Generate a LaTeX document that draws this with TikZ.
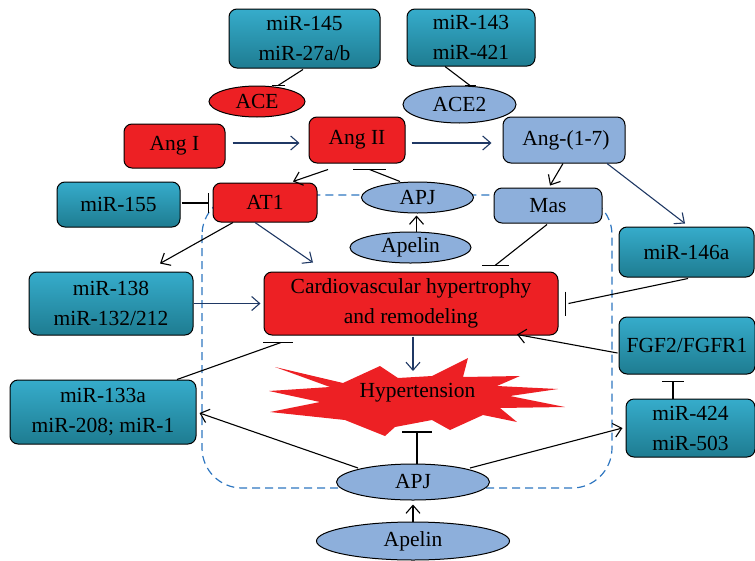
\documentclass[tikz,border=0pt]{standalone}
\usepackage{fontspec}
\setmainfont{Liberation Serif}
\usetikzlibrary{shapes.geometric,arrows.meta,calc}
\definecolor{rd}{RGB}{237,32,36}
\definecolor{lb}{RGB}{141,175,219}
\definecolor{tA}{RGB}{54,172,203}
\definecolor{tB}{RGB}{30,124,145}
\definecolor{nv}{RGB}{31,56,100}
\definecolor{db}{RGB}{46,118,192}
\begin{document}
\begin{tikzpicture}[x=1pt,y=-1pt,
 every node/.style={font=\fontsize{21.5}{30}\selectfont, inner sep=0pt, align=center},
 redbox/.style={draw=black, line width=1pt, rounded corners=8pt, fill=rd},
 bluebox/.style={draw=black, line width=1pt, rounded corners=8pt, fill=lb},
 mirbox/.style={draw=black, line width=1pt, rounded corners=8pt, top color=tA, bottom color=tB},
 redell/.style={draw=black, ellipse, line width=1pt, fill=rd},
 blueell/.style={draw=black, ellipse, line width=1pt, fill=lb},
 arr/.style={-{Straight Barb[length=8pt,width=14pt]}, line width=1.1pt},
 inh/.style={line width=1.1pt},
 region/.style={draw=db, line width=1.2pt, dash pattern=on 8pt off 5pt, rounded corners=40pt},
 burst/.style={fill=rd, draw=none}
 ]
\useasboundingbox (0,0) rectangle (755,560);

% dashed region
\draw[region] (202,195) rectangle (612,488);

% hypertension burst
\fill[burst] (275,367) -- (343,383) -- (380,366) -- (398,378) -- (432,376) -- (468,358)
  -- (463,377) -- (520,376) -- (497,386) -- (558,389) -- (510,396) -- (565,407)
  -- (500,408) -- (517,422) -- (483,415) -- (450,430) -- (432,420) -- (395,427)
  -- (385,436) -- (345,420) -- (270,412) -- (320,402) -- (269,391) -- (330,387) -- cycle;
\node (hyp) at (417.5,393) {Hypertension};

% nodes
\node[mirbox, minimum width=151pt, minimum height=59pt] (mir145) at (304.5,38.5) {miR-145\\miR-27a/b};
\node[mirbox, minimum width=128pt, minimum height=57pt] (mir143) at (471,37.5) {miR-143\\miR-421};
\node[redell, minimum width=96pt, minimum height=31pt] (ace) at (257,101.5) {ACE};
\node[blueell, minimum width=113pt, minimum height=37pt] (ace2) at (459.5,104.5) {ACE2};
\node[redbox, minimum width=101pt, minimum height=44pt] (angI) at (174.5,146) {Ang I};
\node[redbox, minimum width=96pt, minimum height=46pt] (angII) at (357,140) {Ang II};
\node[bluebox, minimum width=122pt, minimum height=46pt] (angL) at (564,140) {\hspace*{4pt}Ang-(1-7)};
\node[mirbox, minimum width=123pt, minimum height=45pt] (mir155) at (118.5,204.5) {miR-155};
\node[redbox, minimum width=104pt, minimum height=39pt] (at1) at (265,202.5) {AT1};
\node[blueell, minimum width=112pt, minimum height=31pt] (apjA) at (417.5,197.5) {APJ};
\node[blueell, minimum width=121pt, minimum height=31pt] (apelinA) at (410.5,247.5) {Apelin};
\node[bluebox, minimum width=108pt, minimum height=35pt] (mas) at (548,205.5) {Mas};
\node[mirbox, minimum width=135pt, minimum height=50pt] (mir146) at (686.5,252) {miR-146a};
\node[mirbox, minimum width=164pt, minimum height=63pt] (mir138) at (111,303.5) {miR-138\\miR-132/212};
\node[redbox, minimum width=294pt, minimum height=63pt] (cardio) at (411,303.5) {Cardiovascular hypertrophy\\and remodeling};
\node[mirbox, minimum width=136pt, minimum height=57pt] (fgf) at (687,345.5) {FGF2/FGFR1};
\node[mirbox, minimum width=186pt, minimum height=64pt] (mir133) at (103,412) {miR-133a\\miR-208; miR-1};
\node[mirbox, minimum width=129pt, minimum height=58pt] (mir424) at (690.5,428) {miR-424\\miR-503};
\node[blueell, minimum width=153pt, minimum height=36pt] (apjB) at (413,482) {APJ};
\node[blueell, minimum width=193pt, minimum height=38pt] (apelinB) at (413,541) {Apelin};

% connectors
\draw[inh] ($(mir145.south)+(-1.5,1)$) -- ($(ace.north)+(21,0)$);
\draw[inh] ($(ace.north)+(14.5,0)$) -- ($(ace.north)+(27.5,0)$);
\draw[inh] ($(mir143.south)+(-26,0)$) -- ($(ace2.north)+(10.5,0)$);
\draw[inh] ($(ace2.north)+(5.5,0)$) -- ($(ace2.north)+(16.5,0)$);

\draw[arr, nv] ($(angI.east)+(7,-3)$) -- ($(angII.west)+(-9,3)$);
\draw[arr, nv] ($(angII.east)+(6,3)$) -- ($(angL.west)+(-11,3)$);
\draw[arr] ($(angII.south)+(-29,6)$) -- ($(at1.north)+(28,-1)$);
\draw[inh] ($(apjA.north)+(-17.5,0)$) -- ($(angII.south)+(12.5,6)$);
\draw[inh] ($(angII.south)+(-4,6)$) -- ($(angII.south)+(29,6)$);
\draw[arr] ($(apelinA.north)+(6,0)$) -- ($(apjA.south)+(-1,2)$);
\draw[arr] ($(angL.south)+(-1,0)$) -- ($(mas.north)+(2,-2)$);
\draw[arr, nv] ($(angL.south)+(43,0)$) -- ($(mir146.north)+(-1.5,-3)$);

\draw[inh] ($(mir155.east)+(1,-1.5)$) -- ($(at1.west)+(-4,0.5)$);
\draw[inh] ($(at1.west)+(-4,-9.5)$) -- ($(at1.west)+(-4,10.5)$);
\draw[arr] ($(at1.south)+(-32,0)$) -- ($(mir138.north)+(49,-8)$);
\draw[arr, nv] ($(at1.south)+(-10,0)$) -- ($(cardio.north)+(-98,-9)$);
\draw[inh] ($(mas.south)+(-1,1)$) -- ($(cardio.north)+(84,-6)$);
\draw[inh] ($(cardio.north)+(71,-6)$) -- ($(cardio.north)+(98,-6)$);
\draw[arr, nv] (mir138.east) -- ($(cardio.west)+(-3,0)$);
\draw[inh] ($(mir146.south)+(1.5,1)$) -- ($(cardio.east)+(10,0)$);
\draw[inh] ($(cardio.east)+(7,-12)$) -- ($(cardio.east)+(7,12)$);
\draw[arr] ($(fgf.west)+(-1,7.5)$) -- ($(cardio.south)+(106,-1)$);
\draw[inh] ($(mir133.north)+(74,0)$) -- ($(cardio.south)+(-130,7)$);
\draw[inh] ($(cardio.south)+(-148,7)$) -- ($(cardio.south)+(-118,7)$);
\draw[arr, nv] ($(cardio.south)+(2,1)$) -- ($(hyp.center)+(-4.5,-22)$);

\draw[inh] ($(apjB.north)+(4,0)$) -- ($(hyp.center)+(-0.5,39)$);
\draw[inh] ($(hyp.center)+(-15.5,39)$) -- ($(hyp.center)+(14.5,39)$);
\draw[arr] (apelinB.north) -- ($(apjB.south)+(0,4)$);
\draw[arr] ($(apjB.center)+(-55,-14)$) -- ($(mir133.east)+(3,1)$);
\draw[arr] ($(apjB.center)+(57,-14)$) -- ($(mir424.west)+(-3,0)$);
\draw[inh] ($(mir424.north)+(-17.5,0)$) -- ($(fgf.south)+(-14,7)$);
\draw[inh] ($(fgf.south)+(-25,7)$) -- ($(fgf.south)+(-3,7)$);
\end{tikzpicture}
\end{document}
